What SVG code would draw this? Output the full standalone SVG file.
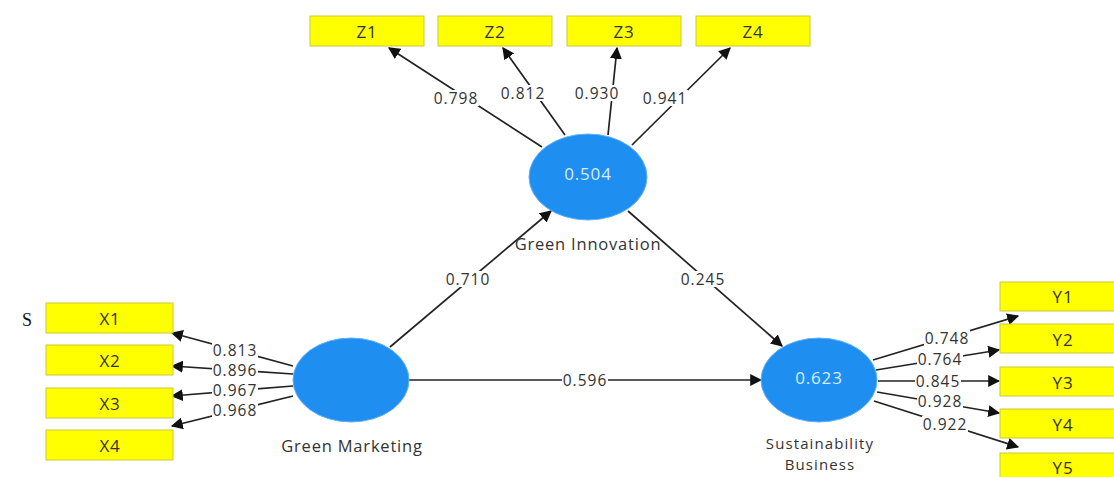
<svg xmlns="http://www.w3.org/2000/svg" width="1114" height="477" viewBox="0 0 1114 477">
  <style>
    .ind rect { fill: #ffff00; stroke: #c9c93a; stroke-width: 1; }
    text { font-family: "Open Sans", "DejaVu Sans", sans-serif; font-size: 16px; letter-spacing: 0.8px; text-anchor: middle; dominant-baseline: central; }
    .ind text { fill: #333; font-size: 17px; }
    .lat ellipse { fill: #1e8ff0; stroke: #5fb0f5; stroke-width: 1; }
    .val { fill: #d8ecff; font-size: 17px; }
    .name { fill: #333; font-size: 16.5px; }
    .name.two { font-size: 15px; letter-spacing: 1.1px; }
    .edge { stroke: #222; stroke-width: 1.7; fill: none; marker-end: url(#arrow); }
    .lbl { fill: #333; font-size: 15.5px; letter-spacing: 1px; }
    .bg { fill: #fff; }
  </style>
  <defs>
    <marker id="arrow" viewBox="0 0 10 10" refX="9" refY="5" markerWidth="12" markerHeight="12" markerUnits="userSpaceOnUse" orient="auto">
      <path d="M0,0 L10,5 L0,10 Z" fill="#111"/>
    </marker>
  </defs>
  <rect width="1114" height="477" fill="#fff"/>

  <text x="27" y="320" style="font-family: 'Liberation Serif', serif; font-size: 18px; letter-spacing: 0" fill="#111">S</text>

  <!-- connectors -->
  <g id="connectors">
    <!-- Green Innovation -> Z -->
    <line class="edge" x1="542" y1="147" x2="389" y2="48"/>
    <line class="edge" x1="565" y1="135" x2="503" y2="48"/>
    <line class="edge" x1="608" y1="135" x2="617" y2="48"/>
    <line class="edge" x1="632" y1="145" x2="730" y2="48"/>
    <!-- Green Marketing -> X -->
    <line class="edge" x1="293" y1="366" x2="172" y2="333"/>
    <line class="edge" x1="293" y1="374" x2="172" y2="366"/>
    <line class="edge" x1="293" y1="386" x2="172" y2="396"/>
    <line class="edge" x1="293" y1="396" x2="172" y2="426"/>
    <!-- Sustainability Business -> Y -->
    <line class="edge" x1="873" y1="360" x2="1018" y2="316"/>
    <line class="edge" x1="876" y1="370" x2="999" y2="350"/>
    <line class="edge" x1="878" y1="381" x2="999" y2="381"/>
    <line class="edge" x1="877" y1="392" x2="999" y2="413"/>
    <line class="edge" x1="874" y1="401" x2="1018" y2="447"/>
    <!-- structural paths -->
    <line class="edge" x1="390" y1="347" x2="551" y2="211"/>
    <line class="edge" x1="628" y1="211" x2="782" y2="346"/>
    <line class="edge" x1="409" y1="380" x2="761" y2="380"/>

    <!-- label backgrounds break the lines under the coefficients -->
    <rect class="bg" x="433" y="90" width="46" height="16"/>
    <rect class="bg" x="500" y="85" width="46" height="16"/>
    <rect class="bg" x="574" y="85" width="46" height="16"/>
    <rect class="bg" x="642" y="90" width="46" height="16"/>
    <rect class="bg" x="212" y="342" width="46" height="16"/>
    <rect class="bg" x="212" y="362" width="46" height="16"/>
    <rect class="bg" x="212" y="382" width="46" height="16"/>
    <rect class="bg" x="212" y="402" width="46" height="16"/>
    <rect class="bg" x="924" y="330" width="46" height="16"/>
    <rect class="bg" x="917" y="351" width="46" height="16"/>
    <rect class="bg" x="915" y="373" width="46" height="16"/>
    <rect class="bg" x="917" y="393" width="46" height="16"/>
    <rect class="bg" x="922" y="416" width="46" height="16"/>
    <rect class="bg" x="445" y="271" width="46" height="16"/>
    <rect class="bg" x="680" y="271" width="46" height="16"/>
    <rect class="bg" x="562" y="372" width="46" height="16"/>

    <text class="lbl" x="456" y="98">0.798</text>
    <text class="lbl" x="523" y="93">0.812</text>
    <text class="lbl" x="597" y="93">0.930</text>
    <text class="lbl" x="665" y="98">0.941</text>
    <text class="lbl" x="235" y="350">0.813</text>
    <text class="lbl" x="235" y="370">0.896</text>
    <text class="lbl" x="235" y="390">0.967</text>
    <text class="lbl" x="235" y="410">0.968</text>
    <text class="lbl" x="947" y="338">0.748</text>
    <text class="lbl" x="940" y="359">0.764</text>
    <text class="lbl" x="938" y="381">0.845</text>
    <text class="lbl" x="940" y="401">0.928</text>
    <text class="lbl" x="945" y="424">0.922</text>
    <text class="lbl" x="468" y="279">0.710</text>
    <text class="lbl" x="703" y="279">0.245</text>
    <text class="lbl" x="585" y="380">0.596</text>
  </g>

  <!-- indicators -->
  <g id="Z1" class="ind"><rect x="310" y="16" width="114" height="30"/><text x="367" y="31">Z1</text></g>
  <g id="Z2" class="ind"><rect x="438" y="16" width="114" height="30"/><text x="495" y="31">Z2</text></g>
  <g id="Z3" class="ind"><rect x="567" y="16" width="114" height="30"/><text x="624" y="31">Z3</text></g>
  <g id="Z4" class="ind"><rect x="696" y="16" width="114" height="30"/><text x="753" y="31">Z4</text></g>

  <g id="X1" class="ind"><rect x="46" y="303" width="127" height="30"/><text x="110" y="318">X1</text></g>
  <g id="X2" class="ind"><rect x="46" y="345" width="127" height="30"/><text x="110" y="360">X2</text></g>
  <g id="X3" class="ind"><rect x="46" y="388" width="127" height="30"/><text x="110" y="403">X3</text></g>
  <g id="X4" class="ind"><rect x="46" y="430" width="127" height="30"/><text x="110" y="445">X4</text></g>

  <g id="Y1" class="ind"><rect x="1000" y="282" width="126" height="29"/><text x="1063" y="296">Y1</text></g>
  <g id="Y2" class="ind"><rect x="1000" y="324" width="126" height="29"/><text x="1063" y="339">Y2</text></g>
  <g id="Y3" class="ind"><rect x="1000" y="367" width="126" height="29"/><text x="1063" y="382">Y3</text></g>
  <g id="Y4" class="ind"><rect x="1000" y="409" width="126" height="29"/><text x="1063" y="424">Y4</text></g>
  <g id="Y5" class="ind"><rect x="1000" y="453" width="126" height="29"/><text x="1063" y="467">Y5</text></g>

  <!-- latent constructs -->
  <g id="green-innovation" class="lat">
    <ellipse cx="588" cy="177" rx="59" ry="43"/>
    <text class="val" x="588" y="173">0.504</text>
    <text class="name" x="588" y="243">Green Innovation</text>
  </g>
  <g id="green-marketing" class="lat">
    <ellipse cx="351" cy="380" rx="58" ry="42"/>
    <text class="name" x="352" y="445">Green Marketing</text>
  </g>
  <g id="sustainability-business" class="lat">
    <ellipse cx="819" cy="380" rx="58" ry="42"/>
    <text class="val" x="819" y="377">0.623</text>
    <text class="name two" x="820" y="443"><tspan x="820">Sustainability</tspan><tspan x="820" dy="21">Business</tspan></text>
  </g>
</svg>
